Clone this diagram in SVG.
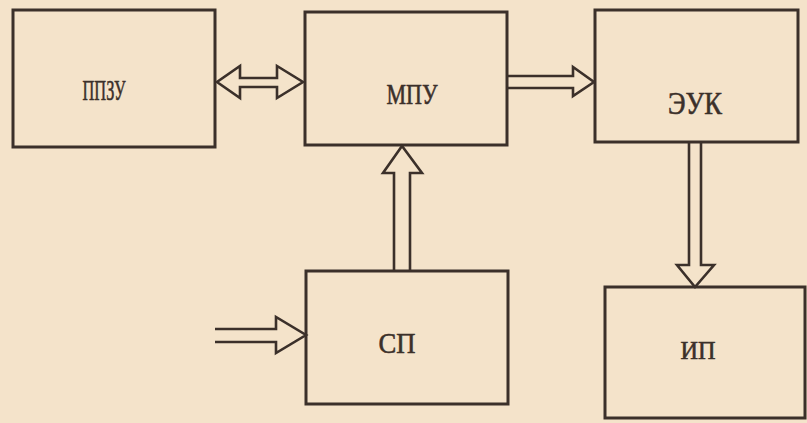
<svg xmlns="http://www.w3.org/2000/svg" width="807" height="423" viewBox="0 0 807 423">
<style>
.box{fill:none;stroke:#3b302a;stroke-width:3}
.arr{fill:none;stroke:#3b302a;stroke-width:2.6;stroke-linejoin:miter}
.lbl{font-family:"Liberation Serif","DejaVu Serif",serif;fill:#3b302a;stroke:#3b302a;stroke-width:0.6;text-anchor:middle}
</style>
<rect width="807" height="423" fill="#f4e3ca"/>
<g id="node-ppzu"><rect class="box" x="13" y="10" width="202" height="137"/><text class="lbl" x="104" y="100" font-size="30" textLength="43" lengthAdjust="spacingAndGlyphs">ППЗУ</text></g>
<g id="node-mpu"><rect class="box" x="305" y="12" width="202" height="133"/><text class="lbl" x="412" y="104" font-size="29" textLength="51" lengthAdjust="spacingAndGlyphs">МПУ</text></g>
<g id="node-euk"><rect class="box" x="595" y="10" width="203" height="132"/><text class="lbl" x="695" y="114" font-size="31" textLength="54" lengthAdjust="spacingAndGlyphs">ЭУК</text></g>
<g id="node-sp"><rect class="box" x="306" y="271" width="202" height="133"/><text class="lbl" x="397" y="353" font-size="30" textLength="37" lengthAdjust="spacingAndGlyphs">СП</text></g>
<g id="node-ip"><rect class="box" x="605" y="287" width="200" height="131"/><text class="lbl" x="698" y="359" font-size="26" textLength="35" lengthAdjust="spacingAndGlyphs">ИП</text></g>
<g id="connectors">
<path class="arr" d="M240,78 L277,78 L277,66 L303,82 L277,98 L277,87 L240,87 L240,98 L217,82 L240,66 Z"/>
<path class="arr" d="M507,76 L573,76 L573,67 L594,82 L573,96 L573,88 L507,88"/>
<path class="arr" d="M394,271 L394,173 L383,173 L402,146 L422,173 L410,173 L410,271"/>
<path class="arr" d="M689,142 L689,265 L677,265 L695,287 L714,265 L701,265 L701,142"/>
<path class="arr" d="M215,329 L276,329 L276,317 L306,335 L276,353 L276,342 L215,342"/>
</g>
</svg>
